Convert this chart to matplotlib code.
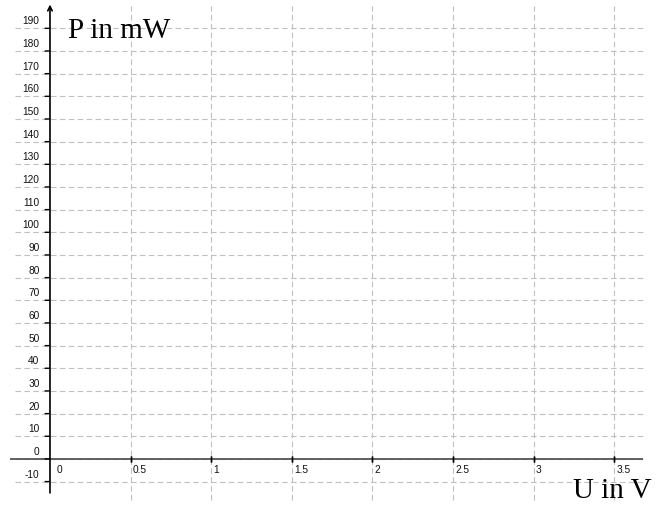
#!/usr/bin/env python3
"""
Empty GeoGebra-style grid: P in mW over U in V
"""
import matplotlib.pyplot as plt
import numpy as np

# Axis ticks and labels
x_ticks = [0, 0.5, 1, 1.5, 2, 2.5, 3, 3.5]
x_labels = ["0", "0.5", "1", "1.5", "2", "2.5", "3", "3.5"]
y_ticks = list(range(-10, 200, 10))
y_labels = [str(v) for v in y_ticks]
x_title = "U in V"
y_title = "P in mW"


def main():
    plt.rcParams['font.family'] = ['Liberation Sans', 'DejaVu Sans']
    fig = plt.figure(figsize=(6.64, 5.09), dpi=100)
    ax = fig.add_axes([0, 0, 1, 1])
    ax.set_xlim(-0.31, 3.809)
    ax.set_ylim(-22.1, 202.5)
    ax.axis('off')

    grid_col = "#c0c0c0"
    dash = (0, (5, 3))
    # Grid lines
    ax.hlines(y_ticks, -0.22, 3.68, colors=grid_col, linewidth=0.8,
              linestyles=dash, zorder=1)
    ax.vlines(x_ticks[1:], -18, 200, colors=grid_col, linewidth=0.8,
              linestyles=dash, zorder=1)

    # Axes lines
    ax.plot([-0.245, 3.68], [0, 0], color="#555555", linewidth=1.3,
            zorder=3, solid_capstyle='butt')
    ax.annotate("", xy=(0, 200.5), xytext=(0, -15),
                arrowprops=dict(arrowstyle="->", color="black", lw=1.2,
                                shrinkA=0, shrinkB=0,
                                mutation_scale=8), zorder=3)

    # Tick marks
    for v in y_ticks:
        ax.annotate("", xy=(0, v), xytext=(-3.5, 0),
                    textcoords='offset points',
                    arrowprops=dict(arrowstyle="-", color="black", lw=1,
                                    shrinkA=0, shrinkB=0))
    for v in x_ticks[1:]:
        ax.plot([v, v], [0, 0], marker="|", markersize=5, color="black",
                markeredgewidth=1, zorder=4)

    # Tick labels
    for v, lab in zip(y_ticks, y_labels):
        ax.annotate(lab, xy=(0, v), xytext=(-7.5, 5),
                    textcoords='offset points', ha='right', va='center',
                    fontsize=7.3, color="#111111")
    for v, lab in zip(x_ticks, x_labels):
        dx = 5 if v == 0 else 1.5
        ax.annotate(lab, xy=(v, 0), xytext=(dx, -8),
                    textcoords='offset points', ha='left', va='center',
                    fontsize=7.3, color="#111111")

    # Axis titles
    ax.text(68 / 664, 1 - 38 / 509, y_title, transform=ax.transAxes,
            fontsize=21, family='Liberation Serif', ha='left',
            va='baseline')
    ax.text(652 / 664, 1 - 498 / 509, x_title, transform=ax.transAxes,
            fontsize=21, family='Liberation Serif', ha='right',
            va='baseline')

    fig.savefig("out.png", dpi=100)


if __name__ == "__main__":
    main()
